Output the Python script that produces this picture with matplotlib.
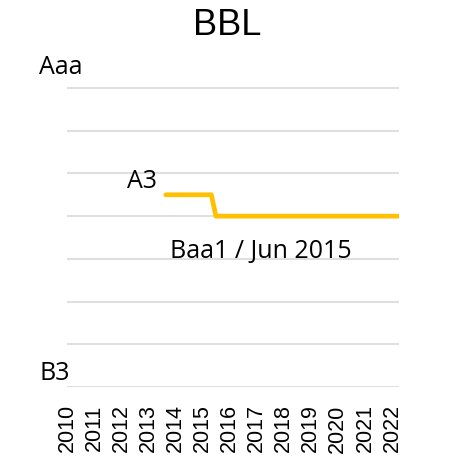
"""Rating history chart for BBL."""

import matplotlib

matplotlib.use("Agg")
import matplotlib.pyplot as plt

# Moody's long-term scale, best to worst
SCALE = ["Aaa", "Aa1", "Aa2", "Aa3", "A1", "A2", "A3", "Baa1",
         "Baa2", "Baa3", "Ba1", "Ba2", "Ba3", "B1", "B2", "B3"]

YEARS = list(range(2010, 2023))
RATING_DATES = [2013.65, 2015.33, 2015.5, 2022.25]
RATINGS = ["A3", "A3", "Baa1", "Baa1"]

TITLE = "BBL"
LINE_COLOR = "#FFC000"
GRID_COLOR = "#D9D9D9"
LABEL_FONT = ["Open Sans", "DejaVu Sans"]
TICK_FONT = ["Liberation Sans", "DejaVu Sans"]


def notch(rating: str) -> int:
    """Numeric position of a rating, Aaa = 1."""
    return SCALE.index(rating) + 1


def main() -> None:
    fig = plt.figure(figsize=(4.55, 4.74), dpi=100)
    ax = fig.add_axes([67 / 455, 1 - 387 / 474, 332 / 455, (387 - 45.3) / 474])

    ys = [notch(r) for r in RATINGS]
    ax.plot(RATING_DATES, ys, color=LINE_COLOR, linewidth=3.4,
            solid_capstyle="round", solid_joinstyle="round", zorder=3)

    ax.set_xlim(2010, 2022.26)
    ax.set_ylim(len(SCALE), 0)
    ax.set_yticks(range(2, len(SCALE) + 1, 2))
    ax.yaxis.grid(True, color=GRID_COLOR, linewidth=1.2)
    ax.tick_params(axis="y", left=False, labelleft=False)
    ax.set_xticks(YEARS)
    ax.set_xticklabels([str(y) for y in YEARS], rotation=90,
                       fontsize=15.5, family=TICK_FONT)
    ax.tick_params(axis="x", bottom=False, pad=9)
    for spine in ax.spines.values():
        spine.set_visible(False)

    # rating annotations
    ax.text(2013.32, 6.4, "A3", ha="right", va="center",
            fontsize=18, family=LABEL_FONT)
    ax.text(2013.8, 9.66, "Baa1 / Jun 2015", ha="left", va="center",
            fontsize=18, family=LABEL_FONT)

    # scale end labels
    fig.text(39 / 455, 1 - 68 / 474, SCALE[0], ha="left", va="center",
             fontsize=18, family=LABEL_FONT)
    fig.text(39 / 455, 1 - 373 / 474, SCALE[-1], ha="left", va="center",
             fontsize=18, family=LABEL_FONT)

    fig.text(227.5 / 455, 1 - 25.5 / 474, TITLE, ha="center", va="center",
             fontsize=26, family=TICK_FONT)

    fig.savefig("out.png", dpi=100)
    plt.close(fig)


if __name__ == "__main__":
    main()
